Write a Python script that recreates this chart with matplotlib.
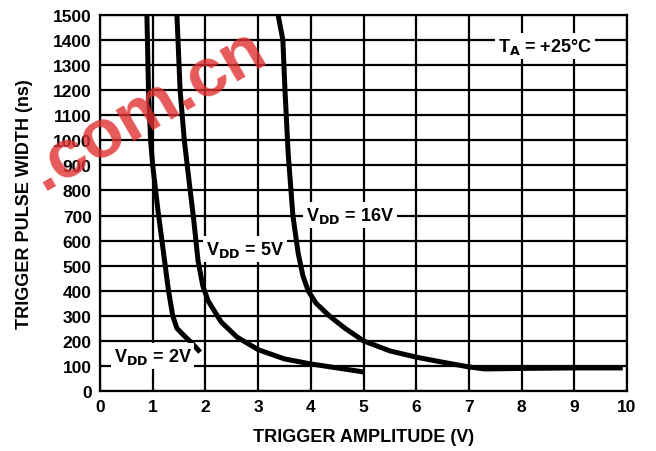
import matplotlib
matplotlib.use('Agg')
import matplotlib.pyplot as plt

plt.rcParams['font.family'] = ['Liberation Sans', 'DejaVu Sans']
plt.rcParams['font.weight'] = 'bold'

# curves: trigger amplitude (V) vs pulse width (ns)
vdd2_x = [0.89, 0.92, 0.96, 1.0, 1.1, 1.2, 1.3, 1.38, 1.46, 1.6, 1.75, 1.9]
vdd2_y = [1500, 1200, 1000, 900, 720, 560, 400, 300, 250, 220, 190, 155]

vdd5_x = [1.46, 1.52, 1.6, 1.7, 1.78, 1.86, 1.95, 2.05, 2.3, 2.6, 3.0, 3.5, 4.0, 4.5, 5.0]
vdd5_y = [1500, 1200, 1000, 820, 680, 520, 420, 360, 275, 215, 165, 128, 108, 92, 76]

vdd16_x = [3.38, 3.47, 3.51, 3.57, 3.66, 3.76, 3.85, 3.95, 4.1, 4.35, 4.65, 5.0, 5.5, 6.0, 6.5, 7.0, 7.3, 8.0, 9.0, 9.92]
vdd16_y = [1500, 1400, 1200, 950, 700, 550, 460, 400, 350, 300, 250, 200, 160, 135, 115, 96, 88, 90, 92, 92]

fig = plt.figure(figsize=(6.56, 4.52), dpi=100)
ax = fig.add_axes([100 / 656, 60 / 452, 527 / 656, 376 / 452])

ax.set_xlim(0, 10)
ax.set_ylim(0, 1500)
ax.set_xticks(range(0, 11))
ax.set_yticks(range(0, 1501, 100))
ax.grid(True, color='black', linewidth=1.6)
ax.set_axisbelow(True)
for s in ax.spines.values():
    s.set_linewidth(1.6)
ax.tick_params(length=0, labelsize=12.5, pad=6)
for lab in ax.get_xticklabels() + ax.get_yticklabels():
    lab.set_fontweight('bold')

for xs, ys in [(vdd2_x, vdd2_y), (vdd5_x, vdd5_y), (vdd16_x, vdd16_y)]:
    ax.plot(xs, ys, color='black', linewidth=3.6, solid_capstyle='butt', zorder=3)

box = dict(facecolor='white', edgecolor='none', pad=2)
fs = 13
ax.text(1.0, 140, r'V$_{\mathbf{DD}}$ = 2V', ha='center', va='center', fontsize=fs, fontweight='bold', bbox=box, zorder=4)
ax.text(2.75, 566, r'V$_{\mathbf{DD}}$ = 5V', ha='center', va='center', fontsize=fs, fontweight='bold', bbox=box, zorder=4)
ax.text(4.74, 702, r'V$_{\mathbf{DD}}$ = 16V', ha='center', va='center', fontsize=fs, fontweight='bold', bbox=box, zorder=4)
ax.text(8.44, 1376, r'T$_{\mathbf{A}}$ = +25°C', ha='center', va='center', fontsize=fs, fontweight='bold', bbox=box, zorder=4)

ax.set_xlabel('TRIGGER AMPLITUDE (V)', fontsize=13, fontweight='bold', labelpad=10)
ax.set_ylabel('TRIGGER PULSE WIDTH (ns)', fontsize=13, fontweight='bold', labelpad=14)

# watermark
fig.text(0.225, 0.755, '.com.cn', color='#e03030', alpha=0.8, fontsize=50, fontweight='bold',
         rotation=30, ha='center', va='center', zorder=10)

fig.savefig('out.png', dpi=100)
